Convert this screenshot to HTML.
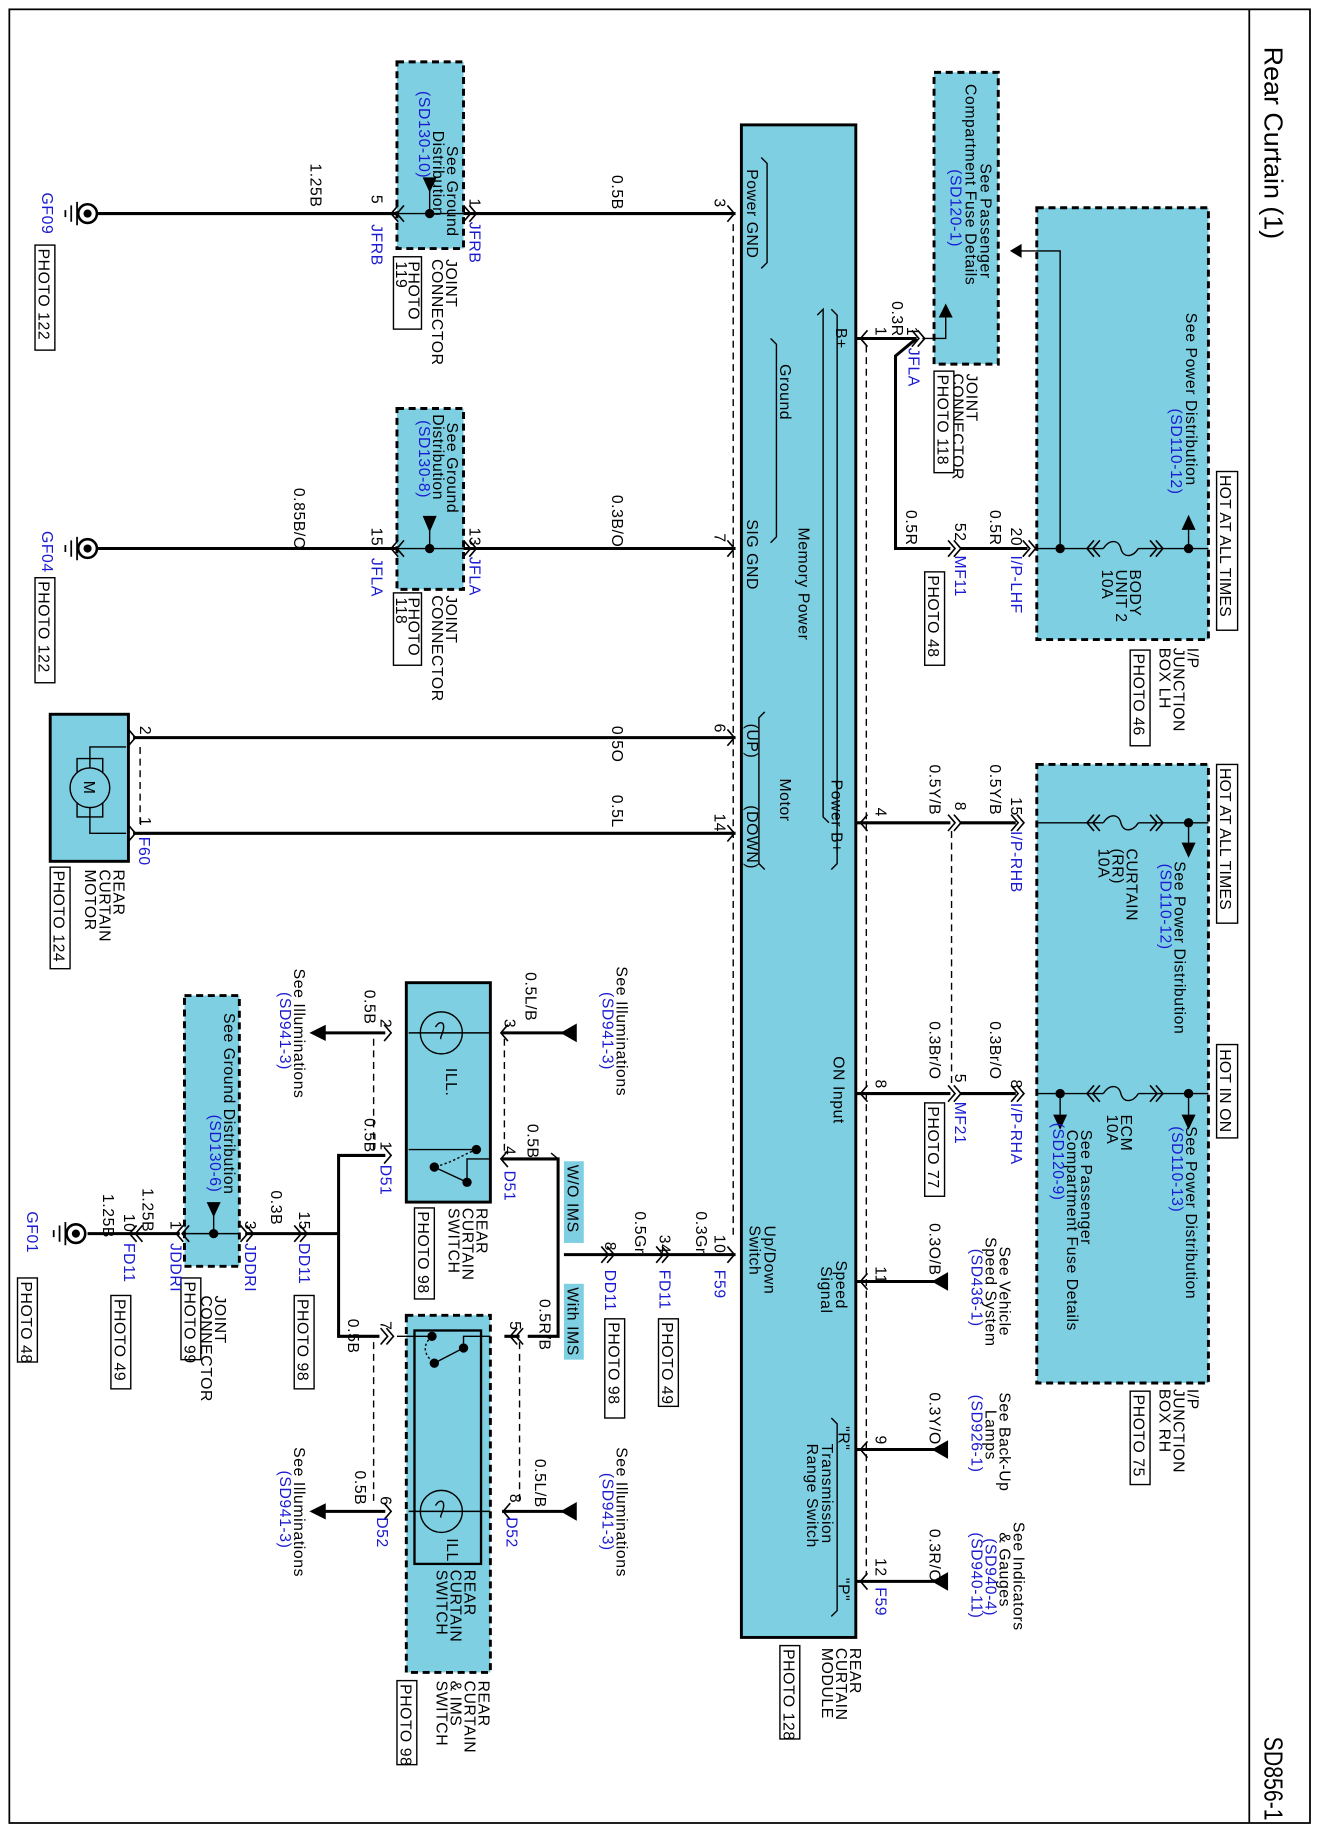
<!DOCTYPE html>
<html><head><meta charset="utf-8">
<style>
html,body{margin:0;padding:0;background:#fff;}
svg{display:block;}
text{font-family:"Liberation Sans",sans-serif;font-size:13.5px;letter-spacing:0.5px;fill:#000;}
.b{fill:#1a1ad0;}
.h{font-size:22px;letter-spacing:0;}
.w{stroke:#000;stroke-width:2.6;fill:none;}
.n{stroke:#000;stroke-width:1.2;fill:none;}
.d{stroke:#000;stroke-width:1.2;fill:none;stroke-dasharray:6,4;}
.cy{fill:#7ecfe2;}
.db{fill:#7ecfe2;stroke:#000;stroke-width:2.5;stroke-dasharray:6,4;}
.sb{fill:#7ecfe2;stroke:#000;stroke-width:2.5;}
.pb{fill:#fff;stroke:#000;stroke-width:1.2;}
</style></head><body>
<svg width="1317" height="1830" viewBox="0 0 1128 1568" preserveAspectRatio="none" xmlns="http://www.w3.org/2000/svg">
<defs>
<path id="c1" d="M-5,-7 L1,0 L-5,7" stroke="#000" stroke-width="1.4" fill="none"/>
<path id="c2" d="M-5,-7 L1,0 L-5,7 M-10,-7 L-4,0 L-10,7" stroke="#000" stroke-width="1.4" fill="none"/>
<g id="gnd"><circle cx="0" cy="0" r="8" fill="#fff" stroke="#000" stroke-width="2.2"/><circle cx="0" cy="0" r="3.5" fill="#000"/><path d="M-9,-10 V10 M-14,-7 V7 M-19,-3 V3" stroke="#000" stroke-width="1.5"/></g>
</defs>
<rect x="8" y="8" width="1114" height="1554" fill="none" stroke="#000" stroke-width="1.5"/>
<line x1="1070" y1="8" x2="1070" y2="1562" stroke="#000" stroke-width="1.5"/>
<text class="h" x="1083" y="40" textLength="165" lengthAdjust="spacingAndGlyphs" transform="rotate(90 1083 40)">Rear Curtain (1)</text>
<text class="h" x="1083" y="1488" textLength="72" lengthAdjust="spacingAndGlyphs" transform="rotate(90 1083 1488)">SD856-1</text>

<!-- Module -->
<rect x="635" y="107" width="98" height="1296" class="sb"/>
<path class="n" d="M652,135 L657,140 V225 L652,230 M660,290 L665,295 V460 L660,465 M700,270 L705,265 V700 L710,705 M712,265 L717,270 V740 L712,745 M655,610 L650,615 V740 L655,745 M712,1215 L717,1220 V1380 L712,1385"/>
<text x="640" y="145" transform="rotate(90 640 145)">Power GND</text>
<text x="640" y="445" transform="rotate(90 640 445)">SIG GND</text>
<text x="640" y="620" transform="rotate(90 640 620)">(UP)</text>
<text x="640" y="690" transform="rotate(90 640 690)">(DOWN)</text>
<text x="655" y="1050" transform="rotate(90 655 1050)">Up/Down</text>
<text x="642" y="1050" transform="rotate(90 642 1050)">Switch</text>
<text x="668" y="312" transform="rotate(90 668 312)">Ground</text>
<text x="684" y="452" transform="rotate(90 684 452)">Memory Power</text>
<text x="668" y="667" transform="rotate(90 668 667)">Motor</text>
<text x="712" y="668" transform="rotate(90 712 668)">Power B+</text>
<text x="716" y="281" transform="rotate(90 716 281)">B+</text>
<text x="714" y="905" transform="rotate(90 714 905)">ON Input</text>
<text x="716" y="1080" transform="rotate(90 716 1080)">Speed</text>
<text x="703" y="1085" transform="rotate(90 703 1085)">Signal</text>
<text x="718" y="1222" transform="rotate(90 718 1222)">"R"</text>
<text x="718" y="1352" transform="rotate(90 718 1352)">"P"</text>
<text x="704" y="1237" transform="rotate(90 704 1237)">Transmission</text>
<text x="691" y="1237" transform="rotate(90 691 1237)">Range Switch</text>
<text x="728" y="1412" transform="rotate(90 728 1412)">REAR</text>
<text x="716" y="1412" transform="rotate(90 716 1412)">CURTAIN</text>
<text x="704" y="1412" transform="rotate(90 704 1412)">MODULE</text>
<rect x="668" y="1410" width="17" height="80" class="pb"/>
<text x="671" y="1413" transform="rotate(90 671 1413)">PHOTO 128</text>

<!-- dashed shield lines -->
<path class="d" d="M628,192 V1062 M742,296 V1350 M120,640 V708 M320,890 V985 M432,890 V988 M320,1150 V1290 M445,1150 V1290 M815,712 V930"/>

<!-- GF09 row -->
<path class="w" d="M84,183 H630"/>
<use href="#gnd" x="75" y="183"/>
<text class="b" x="36" y="165" transform="rotate(90 36 165)">GF09</text>
<rect x="30" y="210" width="17" height="90" class="pb"/>
<text x="33" y="213" transform="rotate(90 33 213)">PHOTO 122</text>
<text x="266" y="140" transform="rotate(90 266 140)">1.25B</text>
<text x="524" y="150" transform="rotate(90 524 150)">0.5B</text>
<rect x="340" y="53" width="57" height="160" class="db"/>
<text x="383" y="125" transform="rotate(90 383 125)">See Ground</text>
<text x="371" y="112" transform="rotate(90 371 112)">Distribution</text>
<text class="b" x="359" y="78" transform="rotate(90 359 78)">(SD130-10)</text>
<path d="M362,152 L374,152 L368,165 Z"/>
<path class="n" d="M368,163 V183 M340,183 H397"/>
<circle cx="368" cy="183" r="4"/>
<use href="#c2" x="336" y="183" transform="rotate(180 336 183)"/>
<use href="#c2" x="407" y="183"/>
<use href="#c1" x="628" y="183"/>
<text x="318" y="167" transform="rotate(90 318 167)">5</text>
<text class="b" x="318" y="192" transform="rotate(90 318 192)">JFRB</text>
<text x="402" y="170" transform="rotate(90 402 170)">1</text>
<text class="b" x="402" y="190" transform="rotate(90 402 190)">JFRB</text>
<text x="612" y="170" transform="rotate(90 612 170)">3</text>
<text x="382" y="222" transform="rotate(90 382 222)">JOINT</text>
<text x="370" y="222" transform="rotate(90 370 222)">CONNECTOR</text>
<rect x="337" y="220" width="24" height="62" class="pb"/>
<text x="350" y="224" transform="rotate(90 350 224)">PHOTO</text>
<text x="339" y="224" transform="rotate(90 339 224)">119</text>

<!-- GF04 row -->
<path class="w" d="M84,470 H630"/>
<use href="#gnd" x="75" y="470"/>
<text class="b" x="36" y="455" transform="rotate(90 36 455)">GF04</text>
<rect x="30" y="495" width="17" height="90" class="pb"/>
<text x="33" y="498" transform="rotate(90 33 498)">PHOTO 122</text>
<text x="252" y="418" transform="rotate(90 252 418)">0.85B/O</text>
<text x="524" y="424" transform="rotate(90 524 424)">0.3B/O</text>
<rect x="340" y="350" width="57" height="155" class="db"/>
<text x="383" y="362" transform="rotate(90 383 362)">See Ground</text>
<text x="371" y="355" transform="rotate(90 371 355)">Distribution</text>
<text class="b" x="359" y="360" transform="rotate(90 359 360)">(SD130-8)</text>
<path d="M362,442 L374,442 L368,456 Z"/>
<path class="n" d="M368,450 V470 M340,470 H397"/>
<circle cx="368" cy="470" r="4"/>
<use href="#c2" x="336" y="470" transform="rotate(180 336 470)"/>
<use href="#c2" x="407" y="470"/>
<use href="#c1" x="628" y="470"/>
<text x="318" y="452" transform="rotate(90 318 452)">15</text>
<text class="b" x="318" y="478" transform="rotate(90 318 478)">JFLA</text>
<text x="402" y="452" transform="rotate(90 402 452)">13</text>
<text class="b" x="402" y="477" transform="rotate(90 402 477)">JFLA</text>
<text x="612" y="457" transform="rotate(90 612 457)">7</text>
<text x="382" y="510" transform="rotate(90 382 510)">JOINT</text>
<text x="370" y="510" transform="rotate(90 370 510)">CONNECTOR</text>
<rect x="337" y="508" width="24" height="62" class="pb"/>
<text x="350" y="512" transform="rotate(90 350 512)">PHOTO</text>
<text x="339" y="512" transform="rotate(90 339 512)">118</text>

<!-- Motor -->
<rect x="43" y="612" width="67" height="126" class="sb"/>
<path class="n" d="M77,662 V640 H108 M77,690 V714 H108 M66,650 H88 V700 H66 Z"/>
<circle cx="77" cy="675" r="17" fill="#7ecfe2" stroke="#000" stroke-width="1.2"/>
<text x="72" y="669" transform="rotate(90 72 669)">M</text>
<path class="w" d="M114,632 H630 M114,714 H630"/>
<use href="#c1" x="115" y="632"/>
<use href="#c1" x="115" y="714"/>
<use href="#c1" x="628" y="632"/>
<use href="#c1" x="628" y="714"/>
<text x="120" y="622" transform="rotate(90 120 622)">2</text>
<text x="120" y="700" transform="rotate(90 120 700)">1</text>
<text class="b" x="119" y="717" transform="rotate(90 119 717)">F60</text>
<text x="524" y="622" transform="rotate(90 524 622)">0.5O</text>
<text x="524" y="681" transform="rotate(90 524 681)">0.5L</text>
<text x="612" y="620" transform="rotate(90 612 620)">6</text>
<text x="612" y="697" transform="rotate(90 612 697)">14</text>
<text x="97" y="745" transform="rotate(90 97 745)">REAR</text>
<text x="85" y="745" transform="rotate(90 85 745)">CURTAIN</text>
<text x="73" y="745" transform="rotate(90 73 745)">MOTOR</text>
<rect x="43" y="743" width="17" height="87" class="pb"/>
<text x="46" y="746" transform="rotate(90 46 746)">PHOTO 124</text>

<!-- Passenger fuse box top -->
<rect x="800" y="62" width="55" height="250" class="db"/>
<text x="840" y="140" transform="rotate(90 840 140)">See Passenger</text>
<text x="827" y="72" transform="rotate(90 827 72)">Compartment Fuse Details</text>
<text class="b" x="814" y="145" transform="rotate(90 814 145)">(SD120-1)</text>
<path class="n" d="M790,290 H810 V270"/>
<path d="M804,272 L816,272 L810,260 Z"/>
<path class="w" d="M733,290 H785 M785,290 L767,305 V470 H814 M822,470 H880"/>
<use href="#c2" x="791" y="290"/>
<use href="#c1" x="738" y="290" transform="rotate(180 738 290)"/>
<text x="764" y="258" transform="rotate(90 764 258)">0.3R</text>
<text x="777" y="280" transform="rotate(90 777 280)">1</text>
<text x="750" y="280" transform="rotate(90 750 280)">1</text>
<text class="b" x="778" y="298" transform="rotate(90 778 298)">JFLA</text>
<text x="828" y="320" transform="rotate(90 828 320)">JOINT</text>
<text x="816" y="320" transform="rotate(90 816 320)">CONNECTOR</text>
<rect x="800" y="318" width="17" height="87" class="pb"/>
<text x="803" y="321" transform="rotate(90 803 321)">PHOTO 118</text>
<use href="#c2" x="822" y="470"/>
<use href="#c2" x="886" y="470"/>
<text x="776" y="437" transform="rotate(90 776 437)">0.5R</text>
<text x="848" y="437" transform="rotate(90 848 437)">0.5R</text>
<text x="818" y="448" transform="rotate(90 818 448)">52</text>
<text class="b" x="818" y="476" transform="rotate(90 818 476)">MF11</text>
<rect x="792" y="490" width="17" height="80" class="pb"/>
<text x="795" y="493" transform="rotate(90 795 493)">PHOTO 48</text>
<text x="866" y="452" transform="rotate(90 866 452)">20</text>
<text class="b" x="866" y="476" transform="rotate(90 866 476)">I/P-LHF</text>

<!-- Junction box LH -->
<rect x="888" y="178" width="147" height="370" class="db"/>
<path class="n" d="M888,470 H945 M975,470 H1035 M908,470 V215 H872 M1018,470 V452"/>
<path class="n" d="M945,470 C950,462 958,462 960,470 C962,478 970,478 975,470"/>
<path d="M865,215 L875,209 L875,221 Z"/>
<path d="M1012,454 L1024,454 L1018,441 Z"/>
<circle cx="908" cy="470" r="4"/><circle cx="1018" cy="470" r="4"/>
<use href="#c2" x="932" y="470" transform="rotate(180 932 470)"/>
<use href="#c2" x="995" y="470"/>
<text x="1016" y="268" transform="rotate(90 1016 268)">See Power Distribution</text>
<text class="b" x="1003" y="350" transform="rotate(90 1003 350)">(SD110-12)</text>
<text x="968" y="488" transform="rotate(90 968 488)">BODY</text>
<text x="956" y="488" transform="rotate(90 956 488)">UNIT 2</text>
<text x="944" y="488" transform="rotate(90 944 488)">10A</text>
<rect x="1042" y="404" width="18" height="136" class="pb"/>
<text x="1045" y="407" transform="rotate(90 1045 407)" style="letter-spacing:0.2px">HOT AT ALL TIMES</text>
<text x="1017" y="555" transform="rotate(90 1017 555)">I/P</text>
<text x="1005" y="555" transform="rotate(90 1005 555)">JUNCTION</text>
<text x="993" y="555" transform="rotate(90 993 555)">BOX LH</text>
<rect x="968" y="557" width="17" height="82" class="pb"/>
<text x="971" y="560" transform="rotate(90 971 560)">PHOTO 46</text>

<!-- Power B+ row -->
<path class="w" d="M733,705 H814 M822,705 H870"/>
<use href="#c1" x="738" y="705" transform="rotate(180 738 705)"/>
<use href="#c2" x="822" y="705"/>
<use href="#c2" x="876" y="705"/>
<text x="750" y="692" transform="rotate(90 750 692)">4</text>
<text x="796" y="655" transform="rotate(90 796 655)">0.5Y/B</text>
<text x="818" y="687" transform="rotate(90 818 687)">8</text>
<text x="848" y="655" transform="rotate(90 848 655)">0.5Y/B</text>
<text x="866" y="683" transform="rotate(90 866 683)">15</text>
<text class="b" x="866" y="712" transform="rotate(90 866 712)">I/P-RHB</text>

<!-- Junction box RH -->
<rect x="888" y="655" width="147" height="530" class="db"/>
<path class="n" d="M888,705 H945 M975,705 H1035 M1018,705 V722 M888,937 H945 M975,937 H1035 M1018,937 V955 M908,937 V955"/>
<path class="n" d="M945,705 C950,697 958,697 960,705 C962,713 970,713 975,705 M945,937 C950,929 958,929 960,937 C962,945 970,945 975,937"/>
<path d="M1012,722 L1024,722 L1018,735 Z M1012,955 L1024,955 L1018,968 Z M902,955 L914,955 L908,968 Z"/>
<circle cx="1018" cy="705" r="4"/><circle cx="1018" cy="937" r="4"/><circle cx="908" cy="937" r="4"/>
<use href="#c2" x="932" y="705" transform="rotate(180 932 705)"/>
<use href="#c2" x="995" y="705"/>
<use href="#c2" x="932" y="937" transform="rotate(180 932 937)"/>
<use href="#c2" x="995" y="937"/>
<text x="965" y="727" transform="rotate(90 965 727)">CURTAIN</text>
<text x="953" y="727" transform="rotate(90 953 727)">(RR)</text>
<text x="941" y="727" transform="rotate(90 941 727)">10A</text>
<text x="1006" y="738" transform="rotate(90 1006 738)">See Power Distribution</text>
<text class="b" x="994" y="740" transform="rotate(90 994 740)">(SD110-12)</text>
<rect x="1042" y="655" width="18" height="136" class="pb"/>
<text x="1045" y="658" transform="rotate(90 1045 658)" style="letter-spacing:0.2px">HOT AT ALL TIMES</text>
<rect x="1042" y="895" width="18" height="80" class="pb"/>
<text x="1045" y="899" transform="rotate(90 1045 899)" style="letter-spacing:0.2px">HOT IN ON</text>
<text x="1016" y="965" transform="rotate(90 1016 965)">See Power Distribution</text>
<text class="b" x="1004" y="965" transform="rotate(90 1004 965)">(SD110-13)</text>
<text x="960" y="955" transform="rotate(90 960 955)">ECM</text>
<text x="948" y="955" transform="rotate(90 948 955)">10A</text>
<text x="926" y="968" transform="rotate(90 926 968)">See Passenger</text>
<text x="914" y="968" transform="rotate(90 914 968)">Compartment Fuse Details</text>
<text class="b" x="902" y="962" transform="rotate(90 902 962)">(SD120-9)</text>
<text x="1017" y="1190" transform="rotate(90 1017 1190)">I/P</text>
<text x="1005" y="1190" transform="rotate(90 1005 1190)">JUNCTION</text>
<text x="993" y="1190" transform="rotate(90 993 1190)">BOX RH</text>
<rect x="968" y="1192" width="17" height="80" class="pb"/>
<text x="971" y="1195" transform="rotate(90 971 1195)">PHOTO 75</text>

<!-- ON input row -->
<path class="w" d="M733,937 H814 M822,937 H870"/>
<use href="#c1" x="738" y="937" transform="rotate(180 738 937)"/>
<use href="#c2" x="822" y="937"/>
<use href="#c2" x="876" y="937"/>
<text x="750" y="925" transform="rotate(90 750 925)">8</text>
<text x="796" y="875" transform="rotate(90 796 875)">0.3Br/O</text>
<text x="818" y="920" transform="rotate(90 818 920)">5</text>
<text class="b" x="818" y="944" transform="rotate(90 818 944)">MF21</text>
<rect x="792" y="945" width="17" height="80" class="pb"/>
<text x="795" y="948" transform="rotate(90 795 948)">PHOTO 77</text>
<text x="848" y="875" transform="rotate(90 848 875)">0.3Br/O</text>
<text x="866" y="925" transform="rotate(90 866 925)">8</text>
<text class="b" x="866" y="945" transform="rotate(90 866 945)">I/P-RHA</text>

<!-- speed, R, P -->
<path class="w" d="M733,1098 H800 M733,1242 H800 M733,1355 H800"/>
<path d="M798,1098 L812,1090 L812,1106 Z M798,1242 L812,1234 L812,1250 Z M798,1355 L812,1347 L812,1363 Z"/>
<use href="#c1" x="738" y="1098" transform="rotate(180 738 1098)"/>
<use href="#c1" x="738" y="1242" transform="rotate(180 738 1242)"/>
<use href="#c1" x="738" y="1355" transform="rotate(180 738 1355)"/>
<text x="750" y="1085" transform="rotate(90 750 1085)">11</text>
<text x="796" y="1048" transform="rotate(90 796 1048)">0.3O/B</text>
<text x="856" y="1068" transform="rotate(90 856 1068)">See Vehicle</text>
<text x="844" y="1060" transform="rotate(90 844 1060)">Speed System</text>
<text class="b" x="832" y="1070" transform="rotate(90 832 1070)">(SD436-1)</text>
<text x="750" y="1230" transform="rotate(90 750 1230)">9</text>
<text x="796" y="1193" transform="rotate(90 796 1193)">0.3Y/O</text>
<text x="856" y="1193" transform="rotate(90 856 1193)">See Back-Up</text>
<text x="844" y="1208" transform="rotate(90 844 1208)">Lamps</text>
<text class="b" x="832" y="1195" transform="rotate(90 832 1195)">(SD926-1)</text>
<text x="750" y="1335" transform="rotate(90 750 1335)">12</text>
<text class="b" x="750" y="1360" transform="rotate(90 750 1360)">F59</text>
<text x="796" y="1310" transform="rotate(90 796 1310)">0.3R/O</text>
<text x="868" y="1304" transform="rotate(90 868 1304)">See Indicators</text>
<text x="856" y="1313" transform="rotate(90 856 1313)">&amp; Gauges</text>
<text class="b" x="844" y="1318" transform="rotate(90 844 1318)">(SD940-4)</text>
<text class="b" x="832" y="1313" transform="rotate(90 832 1313)">(SD940-11)</text>

<!-- Up/Down switch row -->
<path class="w" d="M630,1075 H483 M430,993 H478 V1145 H452"/>
<path class="n" d="M478,993 L472,988"/>
<use href="#c1" x="628" y="1075"/>
<use href="#c2" x="572" y="1075"/>
<use href="#c2" x="525" y="1075"/>
<text x="612" y="1058" transform="rotate(90 612 1058)">10</text>
<text class="b" x="612" y="1088" transform="rotate(90 612 1088)">F59</text>
<text x="596" y="1038" transform="rotate(90 596 1038)">0.3Gr</text>
<text x="565" y="1058" transform="rotate(90 565 1058)">34</text>
<text class="b" x="565" y="1088" transform="rotate(90 565 1088)">FD11</text>
<rect x="564" y="1130" width="17" height="75" class="pb"/>
<text x="567" y="1133" transform="rotate(90 567 1133)">PHOTO 49</text>
<text x="544" y="1038" transform="rotate(90 544 1038)">0.5Gr</text>
<text x="518" y="1064" transform="rotate(90 518 1064)">8</text>
<text class="b" x="518" y="1088" transform="rotate(90 518 1088)">DD11</text>
<rect x="518" y="1130" width="17" height="85" class="pb"/>
<text x="521" y="1133" transform="rotate(90 521 1133)">PHOTO 98</text>
<rect x="483" y="995" width="17" height="70" class="cy"/>
<text x="486" y="998" transform="rotate(90 486 998)">W/O IMS</text>
<rect x="483" y="1100" width="17" height="65" class="cy"/>
<text x="486" y="1103" transform="rotate(90 486 1103)">With IMS</text>
<text x="452" y="963" transform="rotate(90 452 963)">0.5B</text>
<text x="462" y="1113" transform="rotate(90 462 1113)">0.5R/B</text>

<!-- Rear curtain switch -->
<rect x="348" y="842" width="72" height="188" class="sb"/>
<circle cx="378" cy="885" r="18" fill="#7ecfe2" stroke="#000" stroke-width="1.2"/>
<path class="n" d="M350,885 H420 M373,880 C376,875 380,875 380,880 C380,885 376,890 378,890"/>
<text x="382" y="915" transform="rotate(90 382 915)">ILL.</text>
<circle cx="408" cy="985" r="4"/><circle cx="372" cy="1000" r="4"/><circle cx="400" cy="1013" r="4"/>
<path class="n" d="M350,985 H408 M420,993 H400 V1013 L372,1000"/>
<path class="n" d="M408,985 C395,990 390,995 372,1000" stroke-dasharray="2,2"/>
<path class="w" d="M430,885 H485 M330,885 H275 M330,990 H290 V1145 H325 M258,1057 H290"/>
<path d="M480,885 L494,877 L494,893 Z M265,885 L279,878 L279,892 Z"/>
<use href="#c1" x="430" y="885" transform="rotate(180 430 885)"/>
<use href="#c1" x="430" y="993" transform="rotate(180 430 993)"/>
<use href="#c1" x="334" y="885"/>
<use href="#c1" x="334" y="990"/>
<text x="432" y="873" transform="rotate(90 432 873)">3</text>
<text x="450" y="833" transform="rotate(90 450 833)">0.5L/B</text>
<text x="528" y="828" transform="rotate(90 528 828)">See Illuminations</text>
<text class="b" x="516" y="850" transform="rotate(90 516 850)">(SD941-3)</text>
<text x="326" y="873" transform="rotate(90 326 873)">2</text>
<text x="312" y="848" transform="rotate(90 312 848)">0.5B</text>
<text x="252" y="830" transform="rotate(90 252 830)">See Illuminations</text>
<text class="b" x="240" y="850" transform="rotate(90 240 850)">(SD941-3)</text>
<text x="326" y="978" transform="rotate(90 326 978)">1</text>
<text class="b" x="326" y="998" transform="rotate(90 326 998)">D51</text>
<text x="312" y="958" transform="rotate(90 312 958)">0.5B</text>
<text x="432" y="982" transform="rotate(90 432 982)">4</text>
<text class="b" x="432" y="1003" transform="rotate(90 432 1003)">D51</text>
<text x="408" y="1035" transform="rotate(90 408 1035)">REAR</text>
<text x="396" y="1035" transform="rotate(90 396 1035)">CURTAIN</text>
<text x="384" y="1035" transform="rotate(90 384 1035)">SWITCH</text>
<rect x="355" y="1035" width="17" height="78" class="pb"/>
<text x="358" y="1038" transform="rotate(90 358 1038)">PHOTO 98</text>

<!-- Rear curtain & IMS switch -->
<rect x="348" y="1127" width="72" height="306" class="db"/>
<rect x="355" y="1140" width="57" height="200" fill="none" stroke="#000" stroke-width="2"/>
<circle cx="378" cy="1295" r="18" fill="#7ecfe2" stroke="#000" stroke-width="1.2"/>
<path class="n" d="M350,1295 H420 M373,1290 C376,1285 380,1285 380,1290 C380,1295 376,1300 378,1300"/>
<text x="383" y="1318" transform="rotate(90 383 1318)">ILL.</text>
<circle cx="370" cy="1145" r="4"/><circle cx="397" cy="1155" r="4"/><circle cx="372" cy="1168" r="4"/>
<path class="n" d="M340,1145 H370 M420,1145 H397 V1155 L372,1168"/>
<path class="n" d="M370,1145 C362,1152 362,1160 372,1168" stroke-dasharray="2,2"/>
<path class="w" d="M432,1145 H445 M430,1295 H485 M330,1295 H275"/>
<path d="M480,1295 L494,1287 L494,1303 Z M265,1295 L279,1288 L279,1302 Z"/>
<use href="#c2" x="438" y="1145" transform="rotate(180 438 1145)"/>
<use href="#c1" x="432" y="1295" transform="rotate(180 432 1295)"/>
<use href="#c2" x="336" y="1145"/>
<use href="#c1" x="334" y="1295"/>
<text x="437" y="1132" transform="rotate(90 437 1132)">5</text>
<text x="326" y="1132" transform="rotate(90 326 1132)">7</text>
<text x="298" y="1130" transform="rotate(90 298 1130)">0.5B</text>
<text x="437" y="1280" transform="rotate(90 437 1280)">8</text>
<text class="b" x="434" y="1300" transform="rotate(90 434 1300)">D52</text>
<text x="458" y="1250" transform="rotate(90 458 1250)">0.5L/B</text>
<text x="528" y="1240" transform="rotate(90 528 1240)">See Illuminations</text>
<text class="b" x="516" y="1262" transform="rotate(90 516 1262)">(SD941-3)</text>
<text x="326" y="1282" transform="rotate(90 326 1282)">6</text>
<text class="b" x="323" y="1300" transform="rotate(90 323 1300)">D52</text>
<text x="304" y="1260" transform="rotate(90 304 1260)">0.5B</text>
<text x="252" y="1240" transform="rotate(90 252 1240)">See Illuminations</text>
<text class="b" x="240" y="1260" transform="rotate(90 240 1260)">(SD941-3)</text>
<text x="398" y="1345" transform="rotate(90 398 1345)">REAR</text>
<text x="386" y="1345" transform="rotate(90 386 1345)">CURTAIN</text>
<text x="374" y="1345" transform="rotate(90 374 1345)">SWITCH</text>
<text x="410" y="1440" transform="rotate(90 410 1440)">REAR</text>
<text x="398" y="1440" transform="rotate(90 398 1440)">CURTAIN</text>
<text x="386" y="1440" transform="rotate(90 386 1440)">&amp; IMS</text>
<text x="374" y="1440" transform="rotate(90 374 1440)">SWITCH</text>
<rect x="340" y="1440" width="17" height="72" class="pb"/>
<text x="343" y="1443" transform="rotate(90 343 1443)">PHOTO 98</text>

<!-- GF01 ground distribution -->
<rect x="158" y="853" width="47" height="232" class="db"/>
<text x="192" y="868" transform="rotate(90 192 868)">See Ground Distribution</text>
<text class="b" x="180" y="955" transform="rotate(90 180 955)">(SD130-6)</text>
<path d="M177,1030 L189,1030 L183,1043 Z"/>
<path class="n" d="M183,1040 V1057 M158,1057 H205"/>
<circle cx="183" cy="1057" r="4"/>
<path class="w" d="M210,1057 H258 M75,1057 H154"/>
<use href="#gnd" x="65" y="1057"/>
<use href="#c2" x="216" y="1057"/>
<use href="#c2" x="262" y="1057"/>
<use href="#c2" x="152" y="1057" transform="rotate(180 152 1057)"/>
<use href="#c2" x="112" y="1057" transform="rotate(180 112 1057)"/>
<text x="256" y="1038" transform="rotate(90 256 1038)">15</text>
<text class="b" x="256" y="1065" transform="rotate(90 256 1065)">DD11</text>
<rect x="252" y="1110" width="17" height="80" class="pb"/>
<text x="255" y="1113" transform="rotate(90 255 1113)">PHOTO 98</text>
<text x="232" y="1020" transform="rotate(90 232 1020)">0.3B</text>
<text x="210" y="1046" transform="rotate(90 210 1046)">3</text>
<text class="b" x="210" y="1065" transform="rotate(90 210 1065)">JDDRI</text>
<text x="184" y="1110" transform="rotate(90 184 1110)">JOINT</text>
<text x="172" y="1110" transform="rotate(90 172 1110)">CONNECTOR</text>
<rect x="155" y="1095" width="17" height="70" class="pb"/>
<text x="158" y="1098" transform="rotate(90 158 1098)">PHOTO 99</text>
<text x="146" y="1046" transform="rotate(90 146 1046)">1</text>
<text class="b" x="146" y="1065" transform="rotate(90 146 1065)">JDDRI</text>
<text x="122" y="1018" transform="rotate(90 122 1018)">1.25B</text>
<text x="106" y="1040" transform="rotate(90 106 1040)">10</text>
<text class="b" x="106" y="1065" transform="rotate(90 106 1065)">FD11</text>
<rect x="95" y="1110" width="17" height="80" class="pb"/>
<text x="98" y="1113" transform="rotate(90 98 1113)">PHOTO 49</text>
<text x="88" y="1023" transform="rotate(90 88 1023)">1.25B</text>
<text class="b" x="23" y="1038" transform="rotate(90 23 1038)">GF01</text>
<rect x="15" y="1095" width="17" height="72" class="pb"/>
<text x="18" y="1098" transform="rotate(90 18 1098)">PHOTO 48</text>
</svg>
</body></html>
